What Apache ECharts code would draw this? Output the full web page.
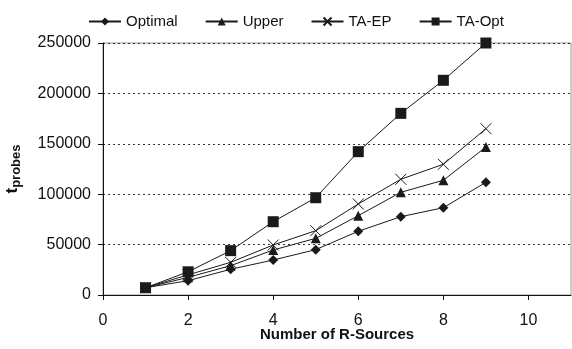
<!DOCTYPE html>
<html>
<head>
<meta charset="utf-8">
<script src="https://cdn.jsdelivr.net/npm/echarts@6/dist/echarts.min.js"></script>
<style>
  html, body { margin: 0; padding: 0; background: #fff; }
  #chart { width: 572px; height: 349px; }
</style>
</head>
<body>
<div id="chart"></div>
<script>
// number of R-sources on the x axis
const sources = [1, 2, 3, 4, 5, 6, 7, 8, 9];
const optimal = [7200, 14200, 25500, 34700, 45000, 63200, 77700, 86600, 111800];
const upper = [7200, 17500, 29100, 44600, 56200, 78700, 101900, 113800, 146800];
const taEp = [7200, 20000, 32400, 49600, 63800, 90300, 114800, 129700, 165000];
const taOpt = [7200, 23000, 44000, 72700, 96500, 142200, 180200, 213000, 250000];

const crossPath = 'path://M0,0L10,10M10,0L0,10';

const pairs = vals => sources.map((x, i) => [x, vals[i]]);

const lineSeries = (name, vals, symbol, size, extra) => Object.assign({
  name: name,
  type: 'line',
  data: pairs(vals),
  symbol: symbol,
  symbolSize: size,
  showAllSymbol: true,
  lineStyle: { color: '#1a1a1a', width: 1 },
  itemStyle: { color: '#1a1a1a' },
  emphasis: { disabled: true },
  animation: false
}, extra || {});

const chart = echarts.init(document.getElementById('chart'));

chart.setOption({
  backgroundColor: '#fff',
  textStyle: { fontFamily: 'Liberation Sans, Arial, sans-serif' },
  legend: {
    top: 9,
    left: 83,
    itemGap: 27,
    itemWidth: 32,
    itemHeight: 10,
    textStyle: { color: '#111', fontSize: 15, fontFamily: 'Liberation Sans' },
    data: ['Optimal', 'Upper', 'TA-EP', 'TA-Opt']
  },
  grid: {
    left: 103,
    right: 1,
    top: 43,
    bottom: 54,
    outerBoundsMode: 'none',
    containLabel: false,
    show: true,
    borderColor: '#999',
    borderWidth: 1
  },
  xAxis: {
    type: 'value',
    min: 0,
    max: 11,
    interval: 2,
    name: 'Number of R-Sources',
    nameLocation: 'middle',
    nameGap: 32,
    nameMoveOverlap: false,
    nameTextStyle: { color: '#111', fontSize: 15, fontWeight: 'bold', fontFamily: 'Liberation Sans' },
    axisLine: { lineStyle: { color: '#111', width: 1 } },
    axisTick: { inside: false, length: 5, lineStyle: { color: '#111' } },
    axisLabel: { color: '#111', fontSize: 16, margin: 18, showMaxLabel: false, fontFamily: 'Liberation Sans' },
    splitLine: { show: false }
  },
  yAxis: {
    type: 'value',
    min: 0,
    max: 250000,
    interval: 50000,
    name: '{t|t}{s|probes}',
    nameLocation: 'middle',
    nameGap: 80,
    nameMoveOverlap: false,
    nameTextStyle: {
      rich: {
        t: { fontSize: 17, fontWeight: 'bold', color: '#111', fontFamily: 'Liberation Sans' },
        s: { fontSize: 13, fontWeight: 'bold', color: '#111', fontFamily: 'Liberation Sans', padding: [8, 0, 0, 0] }
      }
    },
    axisLine: { show: true, lineStyle: { color: '#111', width: 1 } },
    axisTick: { show: true, length: 5, lineStyle: { color: '#111' } },
    axisLabel: {
      color: '#111', fontSize: 16, margin: 12, fontFamily: 'Liberation Sans',
      formatter: v => String(v)
    },
    splitLine: { show: true, lineStyle: { color: '#333', type: [2, 3], width: 1 } }
  },
  series: [
    lineSeries('Optimal', optimal, 'diamond', 10),
    lineSeries('Upper', upper, 'triangle', 10),
    lineSeries('TA-EP', taEp, crossPath, 11, {
      itemStyle: { color: 'none', borderColor: '#1a1a1a', borderWidth: 1 }
    }),
    lineSeries('TA-Opt', taOpt, 'rect', 11)
  ]
});
</script>
</body>
</html>
